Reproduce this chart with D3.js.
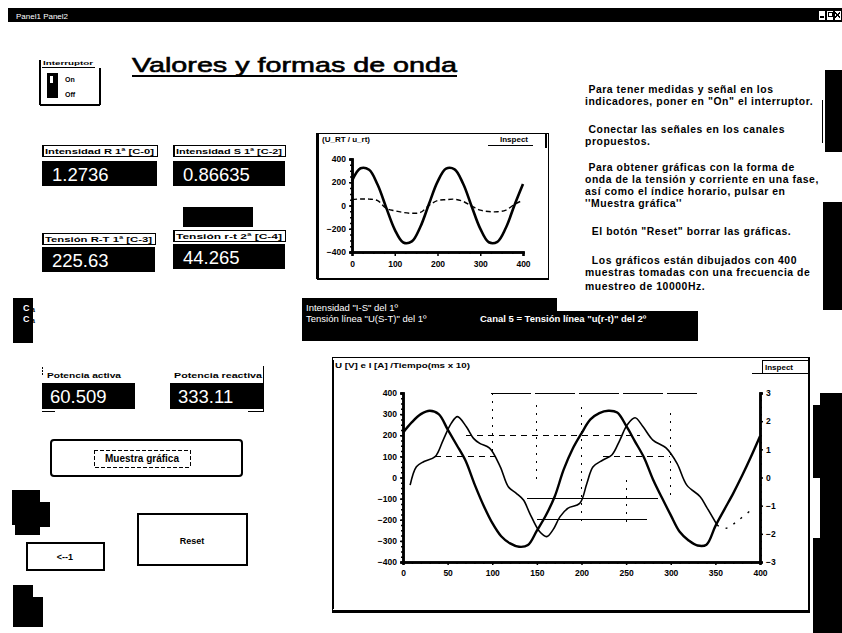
<!DOCTYPE html>
<html><head><meta charset="utf-8">
<script src="https://cdn.jsdelivr.net/npm/d3@7"></script>
<style>
body{margin:0;background:#fff;}
svg{display:block;font-family:"Liberation Sans",Arial,sans-serif;}
.crisp{shape-rendering:crispEdges;}
</style></head><body>
<svg id="c" width="842" height="633"></svg>
<script>
// ---------------- DATA ----------------
const windowTitle = "Panel1 Panel2";
const mainTitle = "Valores y formas de onda";
const switchLabels = ["Interruptor", "On", "Off"];
const indicatorLabels = ["Intensidad R 1ª [C-0]", "Intensidad S 1ª [C-2]", "Tensión R-T 1ª [C-3]", "Tensión r-t 2ª [C-4]"];
const indicatorValues = ["1.2736", "0.86635", "225.63", "44.265"];
const powerLabels = ["Potencia activa", "Potencia reactiva"];
const powerValues = ["60.509", "333.11"];
const helpLines = [
  " Para tener medidas y señal en los",
  "indicadores, poner en \"On\" el interruptor.",
  " Conectar las señales en los canales",
  "propuestos.",
  " Para obtener gráficas con la forma de",
  "onda de la tensión y corriente en una fase,",
  "así como el índice horario, pulsar en",
  "''Muestra gráfica''",
  "  El botón \"Reset\" borrar las gráficas.",
  "  Los gráficos están dibujados con 400",
  "muestras tomadas con una frecuencia de",
  "muestreo de 10000Hz."
];
const bannerLines = ["Intensidad \"I-S\" del 1º", "Tensión línea \"U(S-T)\" del 1º", "Canal 5 = Tensión línea \"u(r-t)\" del 2º"];

// small chart  (U_RT / u_rt)
const smallTitle = "(U_RT / u_rt)";
const smallX = [0,20,40,60,80,100,120,140,160,180,200,220,240,260,280,300,320,340,360,380,400];
const smallU = [212,320,307,178,-18,-207,-318,-309,-183,13,203,317,311,187,-8,-199,-316,-312,-191,3,185];
const smallI = [52,56,55,42,-25,-45,-60,-67,-60,0,42,50,54,35,-5,-40,-52,-54,-40,10,45];
const smallYTicks = [-400,-200,0,200,400];
const smallXTicks = [0,100,200,300,400];

// big chart
const bigTitle = "U [V] e I [A] /Tiempo(ms x 10)";
const bigUX = [0,10,20,30,40,50,60,70,80,90,100,110,120,130,140,150,160,170,180,190,200,210,220,230,240,250,260,270,280,290,300,310,320,330,340,350,360,370,380,390,400];
const bigU = [212,262,300,316,300,228,155,80,-30,-130,-215,-278,-312,-328,-320,-252,-180,-90,37,135,209,275,305,316,308,245,170,95,-8,-95,-178,-257,-298,-322,-318,-230,-152,-75,9,99,195];
const bigIX = [8,15,23,36,45,54,61,71,79,86,97,109,118,127,135,142,153,161,168,176,185,198,206,213,224,234,243,251,260,269,280,295,307,318,333,340,352];
const bigI = [-0.27,0.38,0.56,0.74,1.33,1.92,2.16,1.80,1.39,1.21,1.04,0.38,-0.33,-0.56,-0.80,-1.27,-1.92,-2.10,-1.86,-1.39,-1.09,-0.92,-0.21,0.38,0.62,0.80,1.33,1.86,2.12,1.80,1.33,1.04,0.50,-0.27,-0.68,-1.04,-1.69];
const bigITailX = [352,362,376,391];
const bigITail = [-1.69,-1.80,-1.51,-1.13];
const bigYTicks = [-400,-300,-200,-100,0,100,200,300,400];
const bigXTicks = [0,50,100,150,200,250,300,350,400];
const bigRTicks = [-3,-2,-1,0,1,2,3];
// remnants of the dotted grid (data units)
const hGridY = [400, 200, 200, 100, 100, -100, -200];
const hGridFrom = [99, 71, 176, 36, 224, 139, 150];
const hGridTo = [329, 174, 265, 110, 299, 286, 273];
const vGridX = [100, 150, 200, 250, 300];
const vGridFrom = [400, 345, 335, -12, 305];
const vGridTo = [100, -25, -217, -217, -107];

// ---------------- DRAW ----------------
const svg = d3.select("#c");
const g = svg.append("g");

function rect(x,y,w,h,fill,stroke,sw){
  return g.append("rect").attr("class","crisp").attr("x",x).attr("y",y).attr("width",w).attr("height",h)
    .attr("fill",fill||"none").attr("stroke",stroke||"none").attr("stroke-width",sw||0);
}
function line(x1,y1,x2,y2,sw,dash){
  const l = g.append("line").attr("class","crisp").attr("x1",x1).attr("y1",y1).attr("x2",x2).attr("y2",y2)
    .attr("stroke","#000").attr("stroke-width",sw||1);
  if(dash) l.attr("stroke-dasharray",dash);
  return l;
}
function text(x,y,s,size,opts){
  opts = opts||{};
  const t = g.append("text").attr("x",x).attr("y",y).text(s)
    .attr("font-size",size).attr("fill",opts.fill||"#000")
    .attr("font-weight",opts.bold?"bold":"normal")
    .attr("text-anchor",opts.anchor||"start");
  if(opts.len) t.attr("textLength",opts.len).attr("lengthAdjust",opts.adj||"spacingAndGlyphs");
  return t;
}

// window title bar
rect(8,8,834,14,"#000");
text(16,18.5,windowTitle,8,{fill:"#fff"});
[0,1,2].forEach(i=>{
  rect(818+i*8,10,7,10,"#fff","#000",1);
});
line(820,17,824,17,1.5); rect(828,12,4,4,"none","#000",1); line(835,12,840,18,1.2); line(840,12,835,18,1.2);

// main title
text(132,72,mainTitle,21,{len:325}).attr("stroke","#000").attr("stroke-width",0.6);
line(132,75.5,457,75.5,2);

// switch "Interruptor"
line(40,60,40,105,2); line(40,105,100,105,2); line(100,68,100,105,2);
text(43,65,switchLabels[0],6,{bold:true,len:50});
line(42,67,95,67,1);
rect(47,73,11,25,"#000");
rect(50,76,3,7,"#fff");
text(65,82,switchLabels[1],7,{bold:true});
text(65,97,switchLabels[2],7,{bold:true});

// indicators
const indPos = [[42,145,115,161],[173,145,112,161],[42,233,113,247],[173,230,112,244]];
indPos.forEach((p,i)=>{
  const [x,y,w,dy] = p;
  rect(x,y,w,11,"#fff","#000",1);
  line(x+0.5,y,x+0.5,y+11,2);
  text(x+3,y+8.5,indicatorLabels[i],8,{bold:true,len:w-6});
  rect(x,dy,w,25,"#000");
  text(x+10,dy+20,indicatorValues[i],18.5,{fill:"#fff"});
});
rect(183,207,70,20,"#000");

// power indicators
const powPos = [[42,47],[170,174]];
powPos.forEach((p,i)=>{
  text(p[1],378,powerLabels[i],8,{bold:true,len:i?88:74});
  rect(p[0],383,93,26,"#000");
  text(p[0]+8,403,powerValues[i],18.5,{fill:"#fff"});
});
line(42,367,42,376,1,"2,1"); line(263,366,263,412,1);
line(42,411,55,411,1); line(248,411,263,411,1);

// buttons
g.append("rect").attr("x",51).attr("y",440).attr("width",191).attr("height",36).attr("rx",3)
  .attr("fill","#fff").attr("stroke","#000").attr("stroke-width",2);
rect(94,450,96,17,"none","#000",1).attr("stroke-dasharray","4,2");
text(142,462,"Muestra gráfica",10,{bold:true,anchor:"middle"});
rect(138,514,109,51,"#fff","#000",2);
text(192,544,"Reset",9,{bold:true,anchor:"middle"});
rect(27,543,77,27,"#fff","#000",2);
text(65,560,"<--1",9,{bold:true,anchor:"middle"});

// left black blobs
rect(12,490,28,35,"#000"); rect(40,502,10,25,"#000"); rect(15,525,25,10,"#000");
rect(13,585,20,42,"#000"); rect(33,597,10,30,"#000");
rect(13,298,20,45,"#000");
text(23,311,"C",9,{fill:"#fff",bold:true}); text(23,322,"C",9,{fill:"#fff",bold:true});
text(31,312,"a",7,{bold:true}); text(31,323,"a",7,{bold:true});

// right text
const helpY = [93,105,133,145,171,183,195,207,235,264,276,290];
helpLines.forEach((s,i)=>{
  text(585,helpY[i],s,10.4,{bold:true}).attr("letter-spacing",0.55)
    .attr("xml:space","preserve").style("white-space","pre");
});

// right black blocks
rect(825,70,17,82,"#000"); line(822,100,822,143,1);
rect(823,202,19,108,"#000");
rect(820,393,22,240,"#000"); rect(813,405,7,73,"#000"); rect(813,538,7,95,"#000");
rect(800,502,9,25,"#000"); line(805,490,805,538,1);

// banner
rect(302,298,255,43,"#000");
rect(302,311,396,30,"#000");
text(306,311,bannerLines[0],9.5,{fill:"#fff"});
text(306,322,bannerLines[1],9.5,{fill:"#fff"});
text(480,322,bannerLines[2],9.5,{fill:"#fff",bold:true});

// ---------- small chart ----------
rect(317,133,231,145,"#fff","#000",1);
line(317.5,133,317.5,279,2.5);
line(317,278.5,549,278.5,2);
text(322,142,smallTitle,8,{bold:true});
text(500,142,"Inspect",8,{bold:true});
line(488,145.5,533,145.5,1.5); line(546,134,546,148,1.5);

const sx = d3.scaleLinear().domain([0,400]).range([352,523]);
const sy = d3.scaleLinear().domain([-400,400]).range([252,159]);

const sAxL = g.append("g").attr("transform","translate(352,0)")
  .call(d3.axisLeft(sy).tickValues(smallYTicks).tickSize(3).tickFormat(d3.format("d")));
const sAxLm = g.append("g").attr("transform","translate(352,0)")
  .call(d3.axisLeft(sy).tickValues(d3.range(-400,401,50)).tickSize(2).tickFormat(""));
const sAxB = g.append("g").attr("transform","translate(0,252)")
  .call(d3.axisBottom(sx).tickValues(smallXTicks).tickSize(4).tickFormat(d3.format("d")));
const sAxBm = g.append("g").attr("transform","translate(0,252)")
  .call(d3.axisBottom(sx).tickValues(d3.range(0,401,25)).tickSize(2).tickFormat(""));
[sAxL,sAxLm,sAxB,sAxBm].forEach(a=>{
  a.selectAll(".domain").attr("stroke","#000").attr("stroke-width",2.5);
  a.selectAll(".tick line").attr("stroke","#000").attr("stroke-width",1.5);
  a.selectAll("text").attr("font-family","'Liberation Sans',Arial,sans-serif").attr("font-size",8.5).attr("font-weight","bold").attr("fill","#000");
});
sAxB.selectAll("text").attr("dy","0.9em");

const sLine = d3.line().x((d,i)=>sx(smallX[i])).y(d=>sy(d)).curve(d3.curveCatmullRom);
g.append("path").datum(smallU).attr("d",sLine).attr("fill","none").attr("stroke","#000").attr("stroke-width",2.6);
g.append("path").datum(smallI).attr("d",sLine).attr("fill","none").attr("stroke","#000").attr("stroke-width",1.4).attr("stroke-dasharray","5,3");

// ---------- big chart ----------
rect(332,357,477,255,"#fff","#000",1);
line(333,360,333,609,2.5);
line(332,611.5,810,611.5,2.5);
line(808.5,357,808.5,612,2);
text(335,368,bigTitle,8,{bold:true,len:135});
rect(762,360,46,13,"#fff","#000",1);
text(765,370,"Inspect",8,{bold:true});
line(752,373.5,808,373.5,1.5);

const bx = d3.scaleLinear().domain([0,400]).range([403,760]);
const by = d3.scaleLinear().domain([-400,400]).range([562,393]);
const byR = d3.scaleLinear().domain([-3,3]).range([562,393]);

// grid remnants
hGridY.forEach((v,i)=>{
  line(bx(hGridFrom[i]),by(v),bx(hGridTo[i]),by(v),1, i===0?"40,4": (i>=5?null:"6,5"));
});
vGridX.forEach((v,i)=>{
  line(bx(v),by(vGridFrom[i]),bx(v),by(vGridTo[i]),1,"2,6");
});

const bAxL = g.append("g").attr("transform","translate(403,0)")
  .call(d3.axisLeft(by).tickValues(bigYTicks).tickSize(3).tickFormat(d3.format("d")));
const bAxLm = g.append("g").attr("transform","translate(403,0)")
  .call(d3.axisLeft(by).tickValues(d3.range(-400,401,25)).tickSize(2).tickFormat(""));
const bAxB = g.append("g").attr("transform","translate(0,562)")
  .call(d3.axisBottom(bx).tickValues(bigXTicks).tickSize(3).tickFormat(d3.format("d")));
const bAxBm = g.append("g").attr("transform","translate(0,562)")
  .call(d3.axisBottom(bx).tickValues(d3.range(0,401,10)).tickSize(2).tickFormat(""));
const bAxR = g.append("g").attr("transform","translate(760,0)")
  .call(d3.axisRight(byR).tickValues(bigRTicks).tickSize(3).tickFormat(d3.format("d")));
const bAxRm = g.append("g").attr("transform","translate(760,0)")
  .call(d3.axisRight(byR).tickValues(d3.range(-3,3.01,0.25)).tickSize(2).tickFormat(""));
[bAxL,bAxLm,bAxB,bAxBm,bAxR,bAxRm].forEach(a=>{
  a.selectAll(".domain").attr("stroke","#000").attr("stroke-width",2.5);
  a.selectAll(".tick line").attr("stroke","#000").attr("stroke-width",1.5);
  a.selectAll("text").attr("font-family","'Liberation Sans',Arial,sans-serif").attr("font-size",8.5).attr("font-weight","bold").attr("fill","#000");
});
bAxB.selectAll("text").attr("dy","0.95em");

const bLineU = d3.line().x((d,i)=>bx(bigUX[i])).y(d=>by(d)).curve(d3.curveCatmullRom);
g.append("path").datum(bigU).attr("d",bLineU).attr("fill","none").attr("stroke","#000").attr("stroke-width",2.4);
const bLineI = d3.line().x((d,i)=>bx(bigIX[i])).y(d=>byR(d)).curve(d3.curveCatmullRom);
g.append("path").datum(bigI).attr("d",bLineI).attr("fill","none").attr("stroke","#000").attr("stroke-width",1.6);
const bLineT = d3.line().x((d,i)=>bx(bigITailX[i])).y(d=>byR(d)).curve(d3.curveCatmullRom);
g.append("path").datum(bigITail).attr("d",bLineT).attr("fill","none").attr("stroke","#000").attr("stroke-width",1.4).attr("stroke-dasharray","2,7");
</script>
</body></html>
